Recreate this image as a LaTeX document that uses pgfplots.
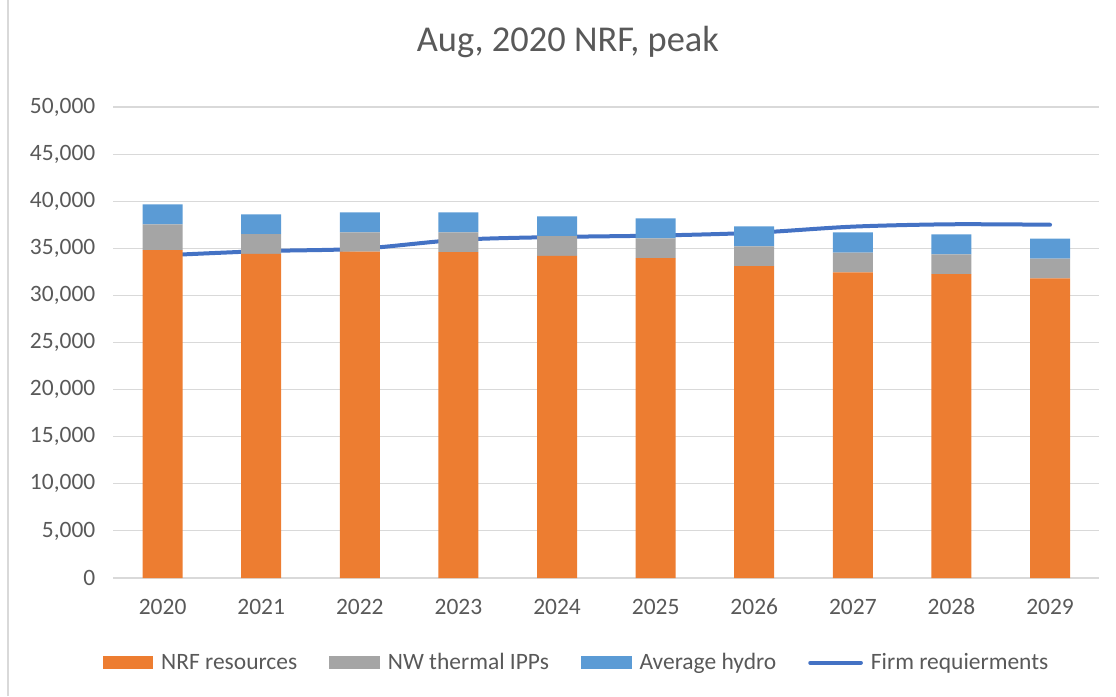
\documentclass[border=0pt]{standalone}
\usepackage{fontspec}
\setmainfont{Carlito}
\usepackage{pgfplots}
\pgfplotsset{compat=1.18}
\definecolor{cOrange}{HTML}{ED7D31}
\definecolor{cGray}{HTML}{A5A5A5}
\definecolor{cBlue}{HTML}{5B9BD5}
\definecolor{cLine}{HTML}{4472C4}
\definecolor{cText}{HTML}{595959}
\definecolor{cGrid}{HTML}{D9D9D9}
\begin{document}
\begin{tikzpicture}
\path[use as bounding box] (0,0) rectangle (837pt,522pt);
\draw[cGrid, line width=1pt] (6pt,0) -- (6pt,522pt);
\begin{axis}[
  at={(85pt,88.5pt)}, anchor=south west,
  scale only axis, width=739.5pt, height=353.25pt,
  ybar stacked, bar width=30pt,
  xmin=-0.5, xmax=9.5, ymin=0, ymax=50000,
  xtick={0,...,9},
  xticklabels={2020,2021,2022,2023,2024,2025,2026,2027,2028,2029},
  ytick={0,5000,...,50000},
  scaled y ticks=false,
  yticklabel style={/pgf/number format/1000 sep={,}, /pgf/number format/assume math mode=true, xshift=-10pt},
  major tick length=0pt,
  axis line style={draw=none},
  ymajorgrids, grid style={cGrid, line width=0.8pt},
  tick label style={text=cText, font=\fontsize{17.6}{20}\selectfont},
  xticklabel style={anchor=base, yshift=-27.5pt},
  title={Aug, 2020 NRF, peak},
  title style={at={(0.461,1.121)}, anchor=center, text=cText, font=\fontsize{27.3}{30}\selectfont},
  legend columns=4,
  legend style={draw=none, at={(0.47,-0.18)}, anchor=center, text=cText,
    font=\fontsize{17.6}{20}\selectfont,
    /tikz/every odd column/.append style={column sep=4pt},
    /tikz/every even column/.append style={column sep=22pt}},
  legend cell align=left,
  area legend,
]
\addplot[fill=cOrange, draw=none, legend image code/.code={\fill[cOrange] (0pt,-5pt) rectangle (38pt,5pt);}] coordinates {
(0,34800) (1,34400) (2,34650) (3,34600) (4,34200) (5,33950) (6,33100) (7,32450) (8,32250) (9,31800)};
\addlegendentry{NRF resources}
\addplot[fill=cGray, draw=none, legend image code/.code={\fill[cGray] (0pt,-5pt) rectangle (38pt,5pt);}] coordinates {
(0,2750) (1,2100) (2,2050) (3,2100) (4,2100) (5,2100) (6,2100) (7,2100) (8,2100) (9,2100)};
\addlegendentry{NW thermal IPPs}
\addplot[fill=cBlue, draw=none, legend image code/.code={\fill[cBlue] (0pt,-5pt) rectangle (38pt,5pt);}] coordinates {
(0,2120) (1,2110) (2,2120) (3,2120) (4,2100) (5,2120) (6,2130) (7,2130) (8,2130) (9,2120)};
\addlegendentry{Average hydro}
\addplot[sharp plot, draw=cLine, line width=3pt, line cap=round, stack plots=false, smooth,
  legend image code/.code={\draw[cLine, line width=3pt, line cap=round] (0pt,0pt) -- (38pt,0pt);}] coordinates {
(0,34250) (1,34700) (2,34950) (3,35900) (4,36200) (5,36350) (6,36650) (7,37300) (8,37550) (9,37500)};
\addlegendentry{Firm requierments}
\end{axis}
\end{tikzpicture}
\end{document}
